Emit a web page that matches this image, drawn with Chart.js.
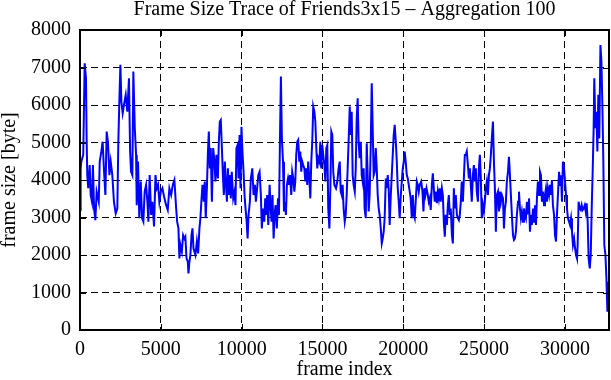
<!DOCTYPE html>
<html>
<head>
<meta charset="utf-8">
<script src="https://cdn.jsdelivr.net/npm/chart.js@4.4.0/dist/chart.umd.min.js"></script>
<style>
  html, body { margin: 0; padding: 0; background: #fff; }
  #wrap { width: 611px; height: 380px; position: relative; }
</style>
</head>
<body>
<div id="wrap"><canvas id="traceChart"></canvas></div>
<script>
// Frame size trace (aggregation 100)

const titleText = 'Frame Size Trace of Friends3x15 \u2013 Aggregation 100';
const xLabel = 'frame index';
const yLabel = 'frame size [byte]';

const xTicks = [0, 5000, 10000, 15000, 20000, 25000, 30000];
const yTicks = [0, 1000, 2000, 3000, 4000, 5000, 6000, 7000, 8000];
const xMax = 32730;
const yMax = 8000;

const frameIndex = [
  0, 40, 80, 200, 290, 370, 410, 450, 510, 600,
  660, 740, 800, 870, 950, 1030, 1160, 1220, 1320, 1400,
  1490, 1570, 1650, 1730, 1820, 1900, 2000, 2100, 2210, 2310,
  2370, 2440, 2500, 2560, 2640, 2720, 2830, 2930, 3030, 3100,
  3160, 3240, 3300, 3390, 3470, 3510, 3590, 3670, 3760, 3840,
  3920, 4000, 4090, 4170, 4230, 4310, 4400, 4480, 4580, 4670,
  4750, 4830, 4910, 5000, 5100, 5200,
  5330, 5430, 5530, 5640, 5740, 5840, 5950, 6010, 6090, 6150,
  6210, 6300, 6380, 6460, 6520, 6590, 6670, 6710, 6770, 6830,
  6900, 6960, 7020, 7080, 7140, 7230, 7310, 7390, 7450, 7520,
  7580, 7660, 7720, 7780, 7850, 7910, 7970, 8030, 8090, 8160,
  8240, 8320, 8380, 8440, 8530, 8590, 8650, 8710, 8780, 8840,
  8900, 8960, 9020, 9090, 9150, 9210, 9270, 9330, 9390, 9480,
  9560, 9620, 9680, 9750, 9810, 9870, 9930, 9990, 10060, 10120,
  10180, 10240, 10300, 10370, 10430, 10510,
  10570, 10660, 10740, 10820, 10880, 10940, 11030, 11110, 11190, 11250,
  11320, 11400, 11460, 11520, 11580, 11650, 11730, 11790, 11850, 11910,
  11980, 12040, 12100, 12180, 12250, 12310, 12370, 12430, 12490, 12560,
  12620, 12680, 12740, 12800, 12870, 12930, 12990, 13070, 13130, 13200,
  13260, 13320, 13380, 13440, 13500, 13570, 13630, 13690, 13750, 13810,
  13880, 13940, 14000, 14060, 14120, 14190, 14250, 14310, 14370, 14430,
  14500, 14560, 14620, 14680, 14740, 14810, 14870, 14930, 14990, 15050,
  15120, 15180, 15240, 15300, 15360, 15430, 15490, 15550, 15610, 15670,
  15740,
  15840, 15920, 16000, 16070, 16130, 16190, 16250, 16310, 16380, 16440,
  16500, 16560, 16620, 16690, 16750, 16810, 16870, 16930, 17000, 17060,
  17120, 17180, 17240, 17300, 17370, 17430, 17490, 17550, 17610, 17680,
  17740, 17800, 17860, 17920, 17990, 18050, 18110, 18170, 18230, 18300,
  18360, 18420, 18480, 18540, 18610, 18670, 18730, 18790, 18850, 18920,
  18980, 19040, 19100, 19160, 19230, 19290, 19350, 19410, 19470, 19540,
  19600, 19660, 19720, 19780, 19850, 19910, 19970, 20030, 20090, 20150,
  20220, 20280, 20340, 20400, 20460, 20530, 20590, 20650, 20710, 20770,
  20840, 20900, 20960, 21020,
  21110, 21190, 21250, 21310, 21370, 21440, 21520, 21580, 21640, 21700,
  21770, 21830, 21890, 21950, 22010, 22080, 22140, 22200, 22260, 22320,
  22390, 22450, 22510, 22570, 22630, 22700, 22760, 22820, 22880, 22940,
  23010, 23070, 23130, 23190, 23250, 23320, 23380, 23440, 23500, 23560,
  23620, 23690, 23750, 23810, 23870, 23930, 24000, 24060, 24120, 24180,
  24240, 24310, 24370, 24430, 24490, 24550, 24620, 24680, 24740, 24800,
  24860, 24930, 24990, 25050, 25110, 25170, 25240, 25300, 25360, 25420,
  25480, 25550, 25610, 25670, 25730, 25790, 25860, 25920, 25980, 26040,
  26100, 26170, 26230, 26290, 26350, 26410, 26480, 26540, 26600,
  26660, 26720, 26790, 26850, 26910, 26970, 27030, 27100, 27160, 27220,
  27280, 27340, 27410, 27470, 27530, 27590, 27650, 27720, 27780, 27840,
  27900, 27960, 28030, 28090, 28150, 28210, 28270, 28330, 28400, 28460,
  28520, 28580, 28640, 28710, 28770, 28830, 28890, 28950, 29020, 29080,
  29140, 29200, 29260, 29330, 29390, 29450, 29510, 29570, 29640, 29700,
  29760, 29820, 29880, 29950, 30010, 30070, 30130, 30190, 30260, 30320,
  30380, 30440, 30500, 30570, 30630, 30690, 30750, 30790, 30850, 30920,
  30980, 31040, 31100, 31160, 31230, 31290, 31350, 31410, 31470, 31540,
  31600, 31660, 31720, 31780, 31820, 31890, 31950, 32010, 32070, 32130,
  32200, 32260, 32320, 32380, 32440, 32510, 32570, 32630, 32690
];

const frameSize = [
  3200, 4300, 4490, 4670, 7110, 6710, 5110, 4130, 3780, 4400,
  3600, 3420, 4400, 3240, 2930, 3690, 3420, 4490, 4760, 5020,
  4220, 3600, 5290, 5020, 4130, 4490, 4130, 3420, 3110, 3240,
  4980, 6180, 7070, 6090, 5780, 6000, 6270, 5820, 6710, 4760,
  4220, 4130, 6890, 5380, 4670, 3330, 4490, 2980, 3960, 2980,
  2890, 3690, 3870, 3420, 2890, 4130, 3070, 3420, 2760, 4130,
  3780, 3870, 3420, 3690, 3780, 3560,
  3330, 3200, 3780, 3600, 3870, 4000, 3240, 2890, 2710, 1910,
  2270, 2090, 2530, 2440, 2490, 1910, 1820, 1510, 1820, 2000,
  2530, 2710, 2180, 2090, 2000, 2360, 2040, 2710, 2980, 3510,
  3870, 3420, 3960, 2980, 3780, 4670, 5290, 4310, 4850, 3420,
  4850, 4490, 3960, 4670, 4040, 5020, 5560, 5600, 4850, 4130,
  3600, 4490, 3960, 3420, 4310, 3600, 4130, 3510, 4220, 3510,
  3690, 3330, 4850, 4930, 4040, 5200, 3780, 5420, 4670, 4220,
  3600, 3240, 2980, 2440, 3070, 3420,
  4040, 4310, 3600, 3870, 3420, 3690, 4130, 4220, 3600, 2710,
  3240, 2890, 3510, 3070, 3600, 2800, 3870, 3330, 2890, 3600,
  2440, 3070, 3330, 2710, 3510, 3070, 5020, 6760, 5110, 4490,
  3160, 3420, 3070, 3870, 4040, 3870, 4130, 3600, 4220, 4040,
  3690, 3960, 4670, 5020, 5070, 4490, 4760, 4220, 4490, 4400,
  4310, 3960, 4310, 3870, 4490, 4040, 3510, 4490, 5020, 5960,
  5820, 5560, 4850, 4310, 4580, 4490, 5020, 4310, 4930, 4670,
  4400, 3960, 4850, 4930, 3240, 2710, 3780, 5290, 5200, 4220,
  3870,
  3780, 3960, 4310, 4490, 3690, 3600, 3870, 3240, 2890, 3070,
  3600, 4310, 5020, 5960, 5200, 5820, 4130, 3870, 3690, 4310,
  5640, 6180, 5020, 4580, 5020, 4130, 3960, 4310, 3240, 2980,
  4980, 4130, 3160, 3600, 4930, 6580, 5380, 4130, 4220, 4850,
  4310, 3600, 3240, 3070, 2710, 2310, 2440, 2620, 2980, 4040,
  3780, 4130, 3780, 2800, 3600, 4130, 4670, 5200, 5470, 5020,
  4490, 3780, 3420, 2980, 3600, 3960, 4310, 4490, 4760, 4490,
  4130, 4040, 3870, 3690, 3510, 2980, 3600, 3070, 2980, 3420,
  3960, 3870, 3690, 3870,
  3960, 3690, 3160, 3780, 3600, 3780, 3600, 3420, 3510, 3200,
  3870, 4180, 3780, 3420, 3690, 3380, 3690, 3510, 3780, 3420,
  3780, 3600, 2890, 2490, 3070, 2800, 3330, 3600, 3070, 3240,
  2530, 2310, 3780, 3240, 3600, 3070, 2980, 2930, 3070, 3420,
  3960, 3420, 4040, 4670, 4670, 4760, 4400, 4040, 4310, 3870,
  3420, 4130, 4400, 3960, 4310, 3690, 3420, 4310, 4670, 4040,
  2980, 3330, 3160, 3420, 3780, 3960, 3600, 4130, 4310, 4670,
  5110, 5560, 4490, 3780, 2620, 3600, 3690, 3160, 3690, 3420,
  3600, 3510, 2710, 3240, 3420, 3960, 4220, 4620, 4130,
  3600, 3070, 2530, 2400, 2440, 2620, 3070, 3420, 3690, 3240,
  2980, 3160, 2890, 3240, 3070, 2980, 3420, 3110, 3510, 2620,
  3070, 2800, 3240, 2890, 3330, 2800, 3510, 3960, 3600, 4220,
  4130, 3420, 3690, 3330, 3600, 3780, 3420, 3780, 3600, 3870,
  3600, 4000, 3330, 3070, 2530, 2360, 3070, 3600, 4220, 3870,
  4130, 3420, 4490, 4310, 3960, 3600, 3240, 2980, 2890, 2800,
  2980, 2620, 2270, 2440, 2180, 2000, 1910, 2270, 3420, 3240,
  3200, 3330, 3200, 3240, 3330, 3160, 3380, 2890, 1910, 1640,
  2000, 3240, 4220, 5380, 6710, 5380, 5820, 4760, 6270, 5110,
  7600, 7160, 6000, 4490, 2270, 2000, 1380, 490, 1290
];

const serif = "'Liberation Serif', 'Times New Roman', serif";
const tickFont = { family: serif, size: 20, weight: 'normal', lineHeight: 1.2 };
const labelFont = { family: serif, size: 20, weight: 'normal', lineHeight: 1.0 };

// gnuplot style: solid frame all round, ticks pointing inwards on every side
const framePlugin = {
  id: 'frame',
  afterDatasetsDraw(chart) {
    const { ctx, chartArea: a, scales } = chart;
    const tick = 6;
    ctx.save();
    ctx.strokeStyle = '#000';
    ctx.lineWidth = 1;
    ctx.beginPath();
    xTicks.forEach(v => {
      const px = Math.round(scales.x.getPixelForValue(v)) + 0.5;
      ctx.moveTo(px, a.bottom); ctx.lineTo(px, a.bottom - tick);
      ctx.moveTo(px, a.top); ctx.lineTo(px, a.top + tick);
    });
    yTicks.forEach(v => {
      const py = Math.round(scales.y.getPixelForValue(v)) + 0.5;
      ctx.moveTo(a.left, py); ctx.lineTo(a.left + tick, py);
      ctx.moveTo(a.right, py); ctx.lineTo(a.right - tick, py);
    });
    ctx.stroke();
    ctx.lineWidth = 2;
    ctx.strokeRect(a.left, a.top, a.right - a.left, a.bottom - a.top);
    ctx.restore();
  }
};

const gridOpts = { color: '#000', lineWidth: 1, drawTicks: false };
const borderOpts = { display: false, dash: [7, 4] };

new Chart(document.getElementById('traceChart'), {
  type: 'line',
  data: {
    datasets: [{
      data: frameIndex.map((f, i) => ({ x: f, y: frameSize[i] })),
      borderColor: '#0000ff',
      borderWidth: 2,
      pointRadius: 0,
      tension: 0,
      fill: false
    }]
  },
  options: {
    responsive: true,
    maintainAspectRatio: false,
    animation: false,
    layout: { padding: { left: 0, right: 2, top: 0, bottom: 0 } },
    plugins: {
      legend: { display: false },
      tooltip: { enabled: false },
      title: {
        display: true,
        text: titleText,
        fullSize: false,
        color: '#000',
        font: labelFont,
        padding: { top: 0, bottom: 10 }
      }
    },
    scales: {
      x: {
        type: 'linear',
        min: 0,
        max: xMax,
        afterBuildTicks: s => { s.ticks = xTicks.map(v => ({ value: v })); },
        afterFit: s => { s.height = 50; },
        grid: gridOpts,
        border: borderOpts,
        ticks: { color: '#000', font: tickFont, padding: 8, maxRotation: 0, autoSkip: false, callback: v => String(v) },
        title: { display: true, text: xLabel, color: '#000', font: labelFont, padding: 0 }
      },
      y: {
        type: 'linear',
        min: 0,
        max: yMax,
        afterBuildTicks: s => { s.ticks = yTicks.map(v => ({ value: v })); },
        afterFit: s => { s.width = 80; },
        grid: gridOpts,
        border: borderOpts,
        ticks: { color: '#000', font: tickFont, padding: 9, autoSkip: false, callback: v => String(v) },
        title: { display: true, text: yLabel, color: '#000', font: labelFont, padding: 0 }
      }
    }
  },
  plugins: [framePlugin]
});
</script>
</body>
</html>
